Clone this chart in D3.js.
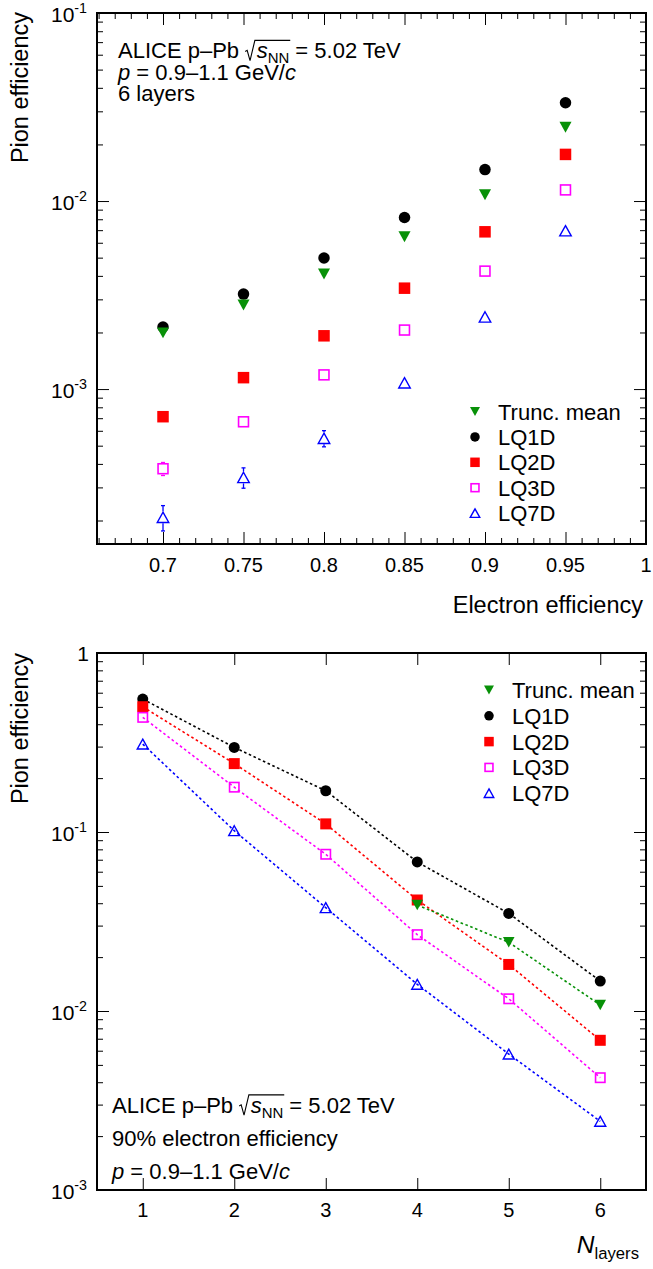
<!DOCTYPE html>
<html>
<head>
<meta charset="utf-8">
<script src="https://cdn.jsdelivr.net/npm/d3@7"></script>
<style>
  html, body { margin: 0; padding: 0; background: #fff; }
  svg text { font-family: "Liberation Sans", Arial, Helvetica, sans-serif; white-space: pre; fill: #000; }
</style>
</head>
<body>
<svg id="chart" width="653" height="1269"></svg>
<script>
// ---------------- DATA ----------------
// Top panel: pion efficiency vs electron efficiency (6 layers)
const electronEff = [0.70, 0.75, 0.80, 0.85, 0.90, 0.95];
const truncMeanTop = [1.99e-3, 2.80e-3, 4.09e-3, 6.46e-3, 1.08e-2, 2.47e-2];
const lq1dTop = [2.14e-3, 3.20e-3, 4.98e-3, 8.18e-3, 1.47e-2, 3.33e-2];
const lq2dTop = [7.13e-4, 1.15e-3, 1.92e-3, 3.44e-3, 6.86e-3, 1.77e-2];
const lq3dTop = [3.77e-4, 6.70e-4, 1.19e-3, 2.06e-3, 4.24e-3, 1.146e-2];
const lq3dTopErr = [3.0e-5, 4.0e-5, 6.0e-5, 8.0e-5, 1.2e-4, 2.5e-4];
const lq7dTop = [2.08e-4, 3.39e-4, 5.47e-4, 1.08e-3, 2.42e-3, 6.95e-3];
const lq7dTopErr = [3.2e-5, 4.2e-5, 5.4e-5, 7.5e-5, 1.0e-4, 2.0e-4];

// Bottom panel: pion efficiency vs number of layers (90% electron efficiency)
const nLayers = [1, 2, 3, 4, 5, 6];
const nLayersTrunc = [4, 5, 6];
const truncMeanN = [0.0391, 0.0242, 0.0108];
const lq1dN = [0.553, 0.297, 0.170, 0.0680, 0.0351, 0.0147];
const lq2dN = [0.501, 0.241, 0.111, 0.0417, 0.0182, 0.00686];
const lq3dN = [0.437, 0.178, 0.0751, 0.0267, 0.0117, 0.00424];
const lq7dN = [0.310, 0.1017, 0.0378, 0.0141, 0.00575, 0.00242];

// Tick values / labels
const topXMajor = [0.7, 0.75, 0.8, 0.85, 0.9, 0.95, 1.0];
const topXLabels = ["0.7", "0.75", "0.8", "0.85", "0.9", "0.95", "1"];
const topYDecades = [1e-3, 1e-2, 1e-1];
const topYLabels = ["-3", "-2", "-1"];
const botXMajor = [1, 2, 3, 4, 5, 6];
const botXLabels = ["1", "2", "3", "4", "5", "6"];
const botYDecades = [1e-3, 1e-2, 1e-1, 1];
const botYLabels = ["-3", "-2", "-1", null];

const legendNames = ["Trunc. mean", "LQ1D", "LQ2D", "LQ3D", "LQ7D"];

// ---------------- STYLE ----------------
const COLORS = { trunc: "#089108", lq1d: "#000000", lq2d: "#ff0000", lq3d: "#ff00ff", lq7d: "#0000ff" };
const SHAPES = { trunc: "tdown", lq1d: "circle", lq2d: "square", lq3d: "osquare", lq7d: "otri" };
const legendKeys = ["trunc", "lq1d", "lq2d", "lq3d", "lq7d"];

const svg = d3.select("#chart");
svg.append("rect").attr("width", 653).attr("height", 1269).attr("fill", "#fff");

// ---------------- HELPERS ----------------
// One <text> element per label, with positioned <tspan>s (super/subscripts, italics, radical)
function rich(parent, x, y, parts, fs, anchor) {
  const g = parent.append("g");
  const text = g.append("text").attr("font-size", fs);
  let cx = 0;
  const rads = [];
  parts.forEach(p => {
    if (p.radStart) { rads.push({ x0: cx }); cx += fs * 0.52; return; }
    if (p.radEnd) { rads[rads.length - 1].x1 = cx + 1; return; }
    const size = (p.sub || p.sup) ? fs * 0.68 : fs;
    const dy = p.sub ? fs * 0.24 : (p.sup ? -fs * 0.42 : 0);
    const t = text.append("tspan").attr("x", cx).attr("y", dy)
      .attr("font-size", size)
      .attr("font-style", p.it ? "italic" : null)
      .text(p.t);
    cx += t.node().getComputedTextLength();
  });
  rads.forEach(r => {
    const top = -fs * 0.80;
    g.append("path")
      .attr("d", `M${r.x0},${-fs*0.30} L${r.x0+fs*0.09},${-fs*0.35} L${r.x0+fs*0.22},${fs*0.12} L${r.x0+fs*0.44},${top} L${r.x1},${top}`)
      .attr("fill", "none").attr("stroke", "#000").attr("stroke-width", 1.1);
  });
  const off = anchor === "end" ? -cx : (anchor === "middle" ? -cx / 2 : 0);
  g.attr("transform", `translate(${x + off},${y})`);
  return g;
}

function marker(g, shape, color, cx, cy, s) {
  if (shape === "circle") {
    g.append("circle").attr("cx", cx).attr("cy", cy).attr("r", s / 2).attr("fill", color);
  } else if (shape === "square") {
    g.append("rect").attr("x", cx - s / 2).attr("y", cy - s / 2).attr("width", s).attr("height", s).attr("fill", color);
  } else if (shape === "osquare") {
    const q = s - 1.6;
    g.append("rect").attr("x", cx - q / 2).attr("y", cy - q / 2).attr("width", q).attr("height", q)
      .attr("fill", "none").attr("stroke", color).attr("stroke-width", 1.6);
  } else if (shape === "otri") {
    const h = s * 0.9, w = s * 1.0;
    g.append("path").attr("d", `M${cx},${cy - h/2} L${cx + w/2},${cy + h/2} L${cx - w/2},${cy + h/2} Z`)
      .attr("fill", "none").attr("stroke", color).attr("stroke-width", 1.4).attr("stroke-linejoin", "miter");
  } else if (shape === "tdown") {
    const h = s * 0.95, w = s * 1.05;
    g.append("path").attr("d", `M${cx - w/2},${cy - h/2} L${cx + w/2},${cy - h/2} L${cx},${cy + h/2} Z`)
      .attr("fill", color);
  }
}

function frameAndAxes(g, x, y, opts) {
  const [x0, x1] = x.range();
  const [y1, y0] = y.range();
  const mkAxis = (axisFn, scale, vals, size, translate) => {
    const a = axisFn(scale).tickValues(vals).tickSize(size).tickFormat("");
    const ag = g.append("g").attr("transform", translate).call(a);
    ag.select(".domain").remove();
    ag.selectAll("line").attr("stroke", "#000").attr("stroke-width", 1);
  };
  mkAxis(d3.axisBottom, x, opts.xMajor, -12, `translate(0,${y1})`);
  mkAxis(d3.axisTop, x, opts.xMajor, -12, `translate(0,${y0})`);
  if (opts.xMinor.length) {
    mkAxis(d3.axisBottom, x, opts.xMinor, -6, `translate(0,${y1})`);
    mkAxis(d3.axisTop, x, opts.xMinor, -6, `translate(0,${y0})`);
  }
  mkAxis(d3.axisLeft, y, opts.yMajor, -12, `translate(${x0},0)`);
  mkAxis(d3.axisRight, y, opts.yMajor, -12, `translate(${x1},0)`);
  mkAxis(d3.axisLeft, y, opts.yMinor, -6, `translate(${x0},0)`);
  mkAxis(d3.axisRight, y, opts.yMinor, -6, `translate(${x1},0)`);
  g.append("rect").attr("x", x0).attr("y", y0).attr("width", x1 - x0).attr("height", y1 - y0)
    .attr("fill", "none").attr("stroke", "#000").attr("stroke-width", 2);
}

function logMinor(dom) {
  const out = [];
  for (let e = Math.floor(Math.log10(dom[0])); e <= Math.ceil(Math.log10(dom[1])); e++) {
    for (let m = 2; m <= 9; m++) {
      const v = m * Math.pow(10, e);
      if (v >= dom[0] * 0.999 && v <= dom[1] * 1.001) out.push(v);
    }
  }
  return out;
}

const TICKFS = 20, YTICKFS = 21, LEGFS = 22, TITLEFS = 23.5, TXTFS = 22;

function yTickLabels(g, y, decades, labels, xr) {
  decades.forEach((d, i) => {
    const ty = y(d);
    if (labels[i] === null) {
      g.append("text").attr("x", xr + 3).attr("y", ty + 7.5).attr("text-anchor", "end").attr("font-size", YTICKFS).text("1");
    } else {
      rich(g, xr + 1, ty + 8.5, [{ t: "10" }, { t: labels[i], sup: true }], YTICKFS, "end");
    }
  });
}

function legend(g, x, yStart, dy) {
  legendKeys.forEach((k, i) => {
    const yy = yStart + i * dy;
    marker(g, SHAPES[k], COLORS[k], x, yy, 9.5);
    g.append("text").attr("x", x + 23).attr("y", yy + 8).attr("font-size", LEGFS).text(legendNames[i]);
  });
}

// ---------------- TOP PANEL ----------------
{
  const g = svg.append("g");
  const x = d3.scaleLinear().domain([0.659, 1.0]).range([97, 646]);
  const y = d3.scaleLog().domain([1.5e-4, 0.1]).range([544, 13]);
  const xMinor = d3.range(66, 101).map(v => v / 100).filter(v => !topXMajor.some(m => Math.abs(m - v) < 1e-6));
  frameAndAxes(g, x, y, { xMajor: topXMajor, xMinor: xMinor, yMajor: topYDecades, yMinor: logMinor(y.domain()) });

  topXMajor.forEach((v, i) => {
    g.append("text").attr("x", x(v)).attr("y", 572).attr("text-anchor", "middle").attr("font-size", TICKFS).text(topXLabels[i]);
  });
  yTickLabels(g, y, topYDecades, topYLabels, 86);

  g.append("text").attr("x", 643).attr("y", 613).attr("text-anchor", "end").attr("font-size", TITLEFS).text("Electron efficiency");
  g.append("text").attr("transform", "translate(28,12) rotate(-90)").attr("text-anchor", "end").attr("font-size", TITLEFS).text("Pion efficiency");

  const series = [
    { key: "lq1d", v: lq1dTop },
    { key: "lq2d", v: lq2dTop },
    { key: "lq3d", v: lq3dTop, e: lq3dTopErr },
    { key: "lq7d", v: lq7dTop, e: lq7dTopErr },
    { key: "trunc", v: truncMeanTop },
  ];
  const mg = g.append("g");
  series.forEach(s => {
    s.v.forEach((v, i) => {
      const cx = x(electronEff[i]), cy = y(v);
      if (s.e) {
        const yu = y(v + s.e[i]), yl = y(v - s.e[i]);
        const h = 6;
        if (cy - yu > h) {
          mg.append("line").attr("x1", cx).attr("x2", cx).attr("y1", yu).attr("y2", cy - h).attr("stroke", COLORS[s.key]).attr("stroke-width", 1.3);
          mg.append("line").attr("x1", cx - 2).attr("x2", cx + 2).attr("y1", yu).attr("y2", yu).attr("stroke", COLORS[s.key]).attr("stroke-width", 1.3);
        }
        if (yl - cy > h) {
          mg.append("line").attr("x1", cx).attr("x2", cx).attr("y1", cy + h).attr("y2", yl).attr("stroke", COLORS[s.key]).attr("stroke-width", 1.3);
          mg.append("line").attr("x1", cx - 2).attr("x2", cx + 2).attr("y1", yl).attr("y2", yl).attr("stroke", COLORS[s.key]).attr("stroke-width", 1.3);
        }
      }
      marker(mg, SHAPES[s.key], COLORS[s.key], cx, cy, 11.5);
    });
  });

  const tg = g.append("g");
  rich(tg, 118, 58, [{ t: "ALICE p\u2013Pb " }, { radStart: true }, { t: "s", it: true }, { t: "NN", sub: true }, { radEnd: true }, { t: " = 5.02 TeV" }], TXTFS, "start");
  rich(tg, 118, 79.5, [{ t: "p", it: true }, { t: " = 0.9\u20131.1 GeV/" }, { t: "c", it: true }], TXTFS, "start");
  rich(tg, 118, 101, [{ t: "6 layers" }], TXTFS, "start");

  legend(g.append("g"), 475, 411.5, 25.4);
}

// ---------------- BOTTOM PANEL ----------------
{
  const g = svg.append("g");
  const x = d3.scaleLinear().domain([0.5, 6.5]).range([97, 646]);
  const y = d3.scaleLog().domain([1e-3, 1]).range([1190, 653]);
  frameAndAxes(g, x, y, { xMajor: botXMajor, xMinor: [], yMajor: botYDecades, yMinor: logMinor(y.domain()) });

  botXMajor.forEach((v, i) => {
    g.append("text").attr("x", x(v)).attr("y", 1217).attr("text-anchor", "middle").attr("font-size", TICKFS).text(botXLabels[i]);
  });
  yTickLabels(g, y, botYDecades, botYLabels, 86);

  rich(g, 639, 1253, [{ t: "N", it: true }, { t: "layers", sub: true }], TITLEFS + 1, "end");
  g.append("text").attr("transform", "translate(28,653) rotate(-90)").attr("text-anchor", "end").attr("font-size", TITLEFS).text("Pion efficiency");

  const series = [
    { key: "lq1d", xs: nLayers, v: lq1dN },
    { key: "lq2d", xs: nLayers, v: lq2dN },
    { key: "lq3d", xs: nLayers, v: lq3dN },
    { key: "lq7d", xs: nLayers, v: lq7dN },
    { key: "trunc", xs: nLayersTrunc, v: truncMeanN },
  ];
  const lg = g.append("g");
  series.forEach(s => {
    const line = d3.line().x((d, i) => x(s.xs[i])).y(d => y(d));
    lg.append("path").attr("d", line(s.v)).attr("fill", "none").attr("stroke", COLORS[s.key])
      .attr("stroke-width", 1.6).attr("stroke-dasharray", "2.6,2.6");
  });
  const mg = g.append("g");
  series.forEach(s => {
    s.v.forEach((v, i) => marker(mg, SHAPES[s.key], COLORS[s.key], x(s.xs[i]), y(v), 11));
  });

  legend(g.append("g"), 489, 690, 25.8);

  const tg = g.append("g");
  rich(tg, 112, 1112.5, [{ t: "ALICE p\u2013Pb " }, { radStart: true }, { t: "s", it: true }, { t: "NN", sub: true }, { radEnd: true }, { t: " = 5.02 TeV" }], TXTFS, "start");
  rich(tg, 112, 1145.5, [{ t: "90% electron efficiency" }], TXTFS, "start");
  rich(tg, 112, 1179, [{ t: "p", it: true }, { t: " = 0.9\u20131.1 GeV/" }, { t: "c", it: true }], TXTFS, "start");
}
</script>
</body>
</html>
